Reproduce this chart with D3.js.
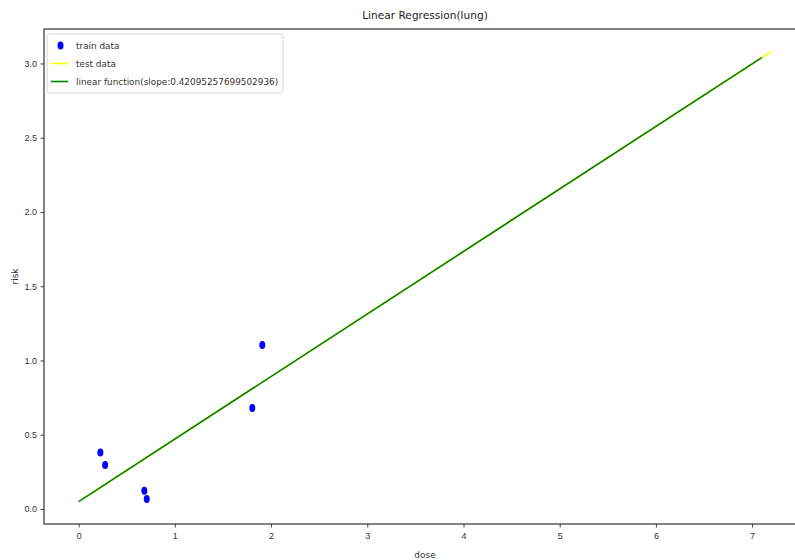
<!DOCTYPE html>
<html>
<head>
<meta charset="utf-8">
<script src="https://cdn.jsdelivr.net/npm/d3@7"></script>
<style>
  body { margin: 0; background: #fff; }
  svg { display: block; font-family: 'DejaVu Sans', sans-serif; }
  .tick text { fill: #333; font-size: 9px; }
  .tick line { stroke: #444; }
</style>
</head>
<body>
<svg width="795" height="560"></svg>
<script>
const svg = d3.select('svg')

// train points (dose, risk)
const trainDose = [0.226, 0.275, 0.683, 0.708, 1.805, 1.909]
const trainRisk = [0.38, 0.297, 0.123, 0.067, 0.68, 1.105]

// test data line, mostly hidden under the fitted line
const testDose = [0.05, 7.2]
const testRisk = [0.071, 3.081]

// fitted line
const fitDose = [0, 7.1]
const fitRisk = [0.050, 3.039]
const slopeText = '0.42095257699502936'

const xTicks = [0, 1, 2, 3, 4, 5, 6, 7]
const yTicks = [0, 0.5, 1.0, 1.5, 2.0, 2.5, 3.0]

const plot = { left: 44, right: 806, top: 29, bottom: 524 }

const x = d3.scaleLinear().domain([-0.36, 7.56]).range([plot.left, plot.right])
const y = d3.scaleLinear().domain([-0.101, 3.232]).range([plot.bottom, plot.top])

/*
  AXES
*/
const xAxis = svg.append('g')
  .attr('transform', `translate(0,${plot.bottom})`)
  .call(d3.axisBottom(x).tickValues(xTicks).tickFormat(d3.format('d')).tickSize(3.5).tickPadding(5))
xAxis.select('.domain').remove()

const yAxis = svg.append('g')
  .attr('transform', `translate(${plot.left},0)`)
  .call(d3.axisLeft(y).tickValues(yTicks).tickFormat(d3.format('.1f')).tickSize(3.5).tickPadding(3.5))
yAxis.select('.domain').remove()

svg.selectAll('.tick text').attr('font-family', null).attr('font-size', null)

svg.append('rect')
  .attr('x', plot.left)
  .attr('y', plot.top)
  .attr('width', plot.right - plot.left)
  .attr('height', plot.bottom - plot.top)
  .attr('fill', 'none')
  .attr('stroke', '#333')
  .attr('stroke-width', 1.2)

svg.append('text')
  .attr('x', (plot.left + plot.right) / 2)
  .attr('y', 19)
  .attr('text-anchor', 'middle')
  .attr('font-size', 10.6)
  .attr('fill', '#222')
  .text('Linear Regression(lung)')

svg.append('text')
  .attr('x', (plot.left + plot.right) / 2)
  .attr('y', 558)
  .attr('text-anchor', 'middle')
  .attr('font-size', 9)
  .attr('fill', '#333')
  .text('dose')

svg.append('text')
  .attr('transform', `translate(18,${(plot.top + plot.bottom) / 2}) rotate(-90)`)
  .attr('text-anchor', 'middle')
  .attr('font-size', 9)
  .attr('fill', '#333')
  .text('risk')

/*
  MARKS
*/
const line = d3.line().x(d => x(d[0])).y(d => y(d[1]))

svg.append('path')
  .datum(d3.zip(testDose, testRisk))
  .attr('d', line)
  .attr('fill', 'none')
  .attr('stroke', '#ffff00')
  .attr('stroke-width', 1.6)

svg.append('path')
  .datum(d3.zip(fitDose, fitRisk))
  .attr('d', line)
  .attr('fill', 'none')
  .attr('stroke', '#008000')
  .attr('stroke-width', 1.6)

svg.append('g')
  .selectAll('ellipse')
  .data(d3.zip(trainDose, trainRisk))
  .enter()
  .append('ellipse')
  .attr('cx', d => x(d[0]))
  .attr('cy', d => y(d[1]))
  .attr('rx', 3)
  .attr('ry', 4)
  .attr('fill', '#0000ff')

/*
  LEGEND
*/
const legend = svg.append('g').attr('transform', 'translate(47,34)')
legend.append('rect')
  .attr('width', 236)
  .attr('height', 59)
  .attr('rx', 2.5)
  .attr('fill', '#fff')
  .attr('fill-opacity', 0.8)
  .attr('stroke', '#d6d6d6')

const items = [
  { label: 'train data', kind: 'dot', color: '#0000ff' },
  { label: 'test data', kind: 'line', color: '#ffff00' },
  { label: `linear function(slope:${slopeText})`, kind: 'line', color: '#008000' },
]

const row = legend.selectAll('.item')
  .data(items)
  .enter()
  .append('g')
  .attr('class', 'item')
  .attr('transform', (d, i) => `translate(0,${11.5 + i * 18})`)

row.filter(d => d.kind === 'dot')
  .append('ellipse')
  .attr('cx', 13.5)
  .attr('rx', 3)
  .attr('ry', 4)
  .attr('fill', d => d.color)

row.filter(d => d.kind === 'line')
  .append('line')
  .attr('x1', 4)
  .attr('x2', 21)
  .attr('stroke', d => d.color)
  .attr('stroke-width', 1.6)

row.append('text')
  .attr('x', 29)
  .attr('dy', '0.35em')
  .attr('font-size', 8.9)
  .attr('fill', '#333')
  .text(d => d.label)
</script>
</body>
</html>
